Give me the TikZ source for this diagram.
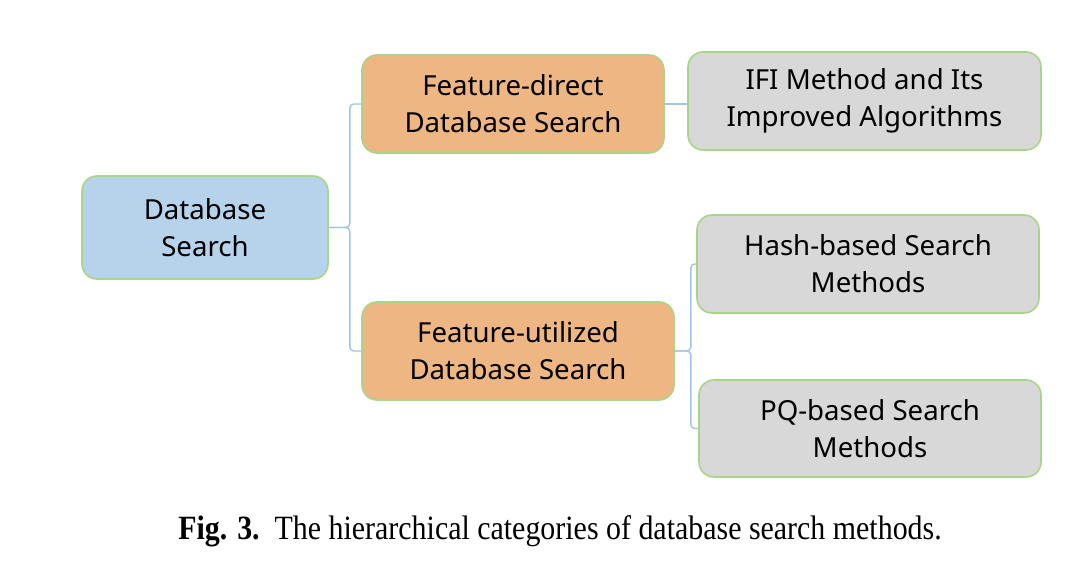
\documentclass[tikz,border=0pt]{standalone}
\usepackage{fontspec}
\setmainfont{Liberation Serif}
\newfontfamily\boxfont{Noto Sans}
\newfontfamily\capfont[FakeStretch=0.88]{Liberation Serif}
\usepackage{tikz}
\definecolor{root_blue}{RGB}{183,211,236}
\definecolor{cat_orange}{RGB}{238,182,131}
\definecolor{leaf_gray}{RGB}{217,216,217}
\definecolor{edge_green}{RGB}{169,213,137}
\definecolor{link_blue}{RGB}{160,196,232}

\begin{document}
\begin{tikzpicture}[x=0.5pt,y=-0.5pt]
    \tikzstyle{box}=[draw=edge_green, line width=0.8pt, rounded corners=7.5pt, align=center, text=black,
                     font=\boxfont\fontsize{13.8}{18.5}\selectfont, minimum height=49pt, inner sep=0pt]
    \tikzstyle{rt}=[style=box, fill=root_blue]
    \tikzstyle{cat}=[style=box, fill=cat_orange]
    \tikzstyle{leaf}=[style=box, fill=leaf_gray]
    \tikzstyle{link}=[draw=link_blue, line width=0.7pt, rounded corners=2pt]

    \useasboundingbox (0,0) rectangle (1073,565);

    \node[rt, minimum width=123pt, minimum height=51.5pt] (db) at (205,227.5) {Database\\Search};
    \node[cat, minimum width=151pt] (fd) at (513,104)   {Feature-direct\\Database Search};
    \node[cat, minimum width=156pt] (fu) at (518,351)   {Feature-utilized\\Database Search};
    \node[leaf, minimum width=176.5pt] (ifi) at (864.5,101) {IFI Method and Its\\Improved Algorithms};
    \node[leaf, minimum width=171pt] (hash) at (868,264)  {Hash-based Search\\Methods};
    \node[leaf, minimum width=171pt, minimum height=48.5pt] (pq) at (870,428.5) {PQ-based Search\\Methods};
    \node[font=\capfont\fontsize{17}{20}\selectfont] (cap) at (560,531)
        {\textbf{Fig. 3.}\ \ The hierarchical categories of database search methods.};

    \draw[link] (db.east) -- ++(21,0) |- (fd.west);
    \draw[link] (db.east) -- ++(21,0) |- (fu.west);
    \draw[link] (fd.east) -- (ifi.west |- fd.east);
    \draw[link] (fu.east) -- ++(16,0) |- (hash.west);
    \draw[link] (fu.east) -- ++(16,0) |- (pq.west);
\end{tikzpicture}
\end{document}
